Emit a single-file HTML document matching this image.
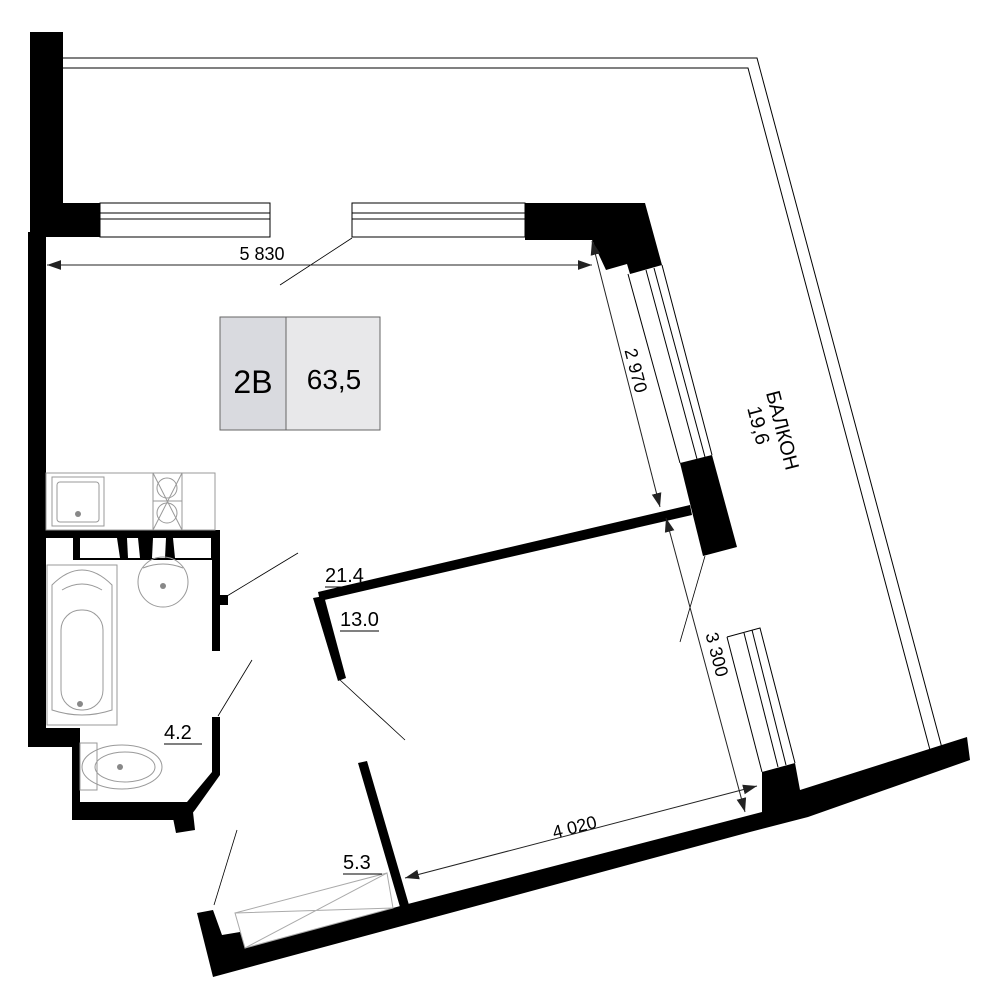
<!DOCTYPE html>
<html><head><meta charset="utf-8"><style>html,body{margin:0;padding:0;background:#fff}svg{display:block}text{font-family:"Liberation Sans","DejaVu Sans",sans-serif}</style></head>
<body>
<svg width="1000" height="1000" viewBox="0 0 1000 1000" xmlns="http://www.w3.org/2000/svg">
<defs>
<marker id="ar" viewBox="0 0 10 10" refX="10" refY="5" markerWidth="14" markerHeight="14" markerUnits="userSpaceOnUse" orient="auto-start-reverse"><path d="M0,1.5 L10,5 L0,8.5z" fill="#222"/></marker>
</defs>
<g fill="none" stroke="#000" stroke-width="1">
<polyline points="63,58 757,58 942,748"/>
<polyline points="63,68 748,68 930,750"/>
</g>
<g fill="#000">
<rect x="30" y="32" width="33" height="205"/>
<rect x="30" y="203" width="70" height="34"/>
<rect x="28" y="232" width="18" height="515"/>
<rect x="28" y="728" width="52" height="19"/>
<rect x="72" y="728" width="8" height="92"/>
<rect x="72" y="802" width="115" height="18"/>
<polygon points="187,802 212,772 212,717 220,717 220,775 195,810 187,820"/>
<polygon points="173,818 193,812 195,830 176,833"/>
<rect x="212" y="530" width="8" height="121"/>
<rect x="220" y="595" width="8" height="10"/>
<rect x="46" y="530" width="174" height="30"/>
<polygon points="525,203 645,203 662,265 630,274 627,264 606,270 592,240 525,240"/>
<polygon points="680,463 712,455 737,547 703,556"/>
<polygon points="318,592 690,505 692,515 320,601"/>
<polygon points="313,598 324,596 346,678 338,681"/>
<polygon points="358,763 367,761 409,905 400,907"/>
<polygon points="197,913 213,910 222,935 240,932 245,948 404,905 762,812 762,772 795,763 800,790 967,737 970,760 808,817 750,832 213,977"/>
</g>
<g fill="#fff">
<rect x="46" y="538" width="27" height="22"/>
<polygon points="80,538 117,538 120,558 80,558"/>
<polygon points="127,538 138,538 140,558 128,558"/>
<polygon points="153,538 166,538 165,558 152,558"/>
<polygon points="173,538 211,538 211,558 175,558"/>
</g>
<g stroke="#000" stroke-width="1" fill="none">
<rect x="100" y="203" width="170" height="34"/>
<line x1="100" y1="213" x2="270" y2="213"/><line x1="100" y1="219" x2="270" y2="219"/>
<rect x="352" y="203" width="173" height="34"/>
<line x1="352" y1="213" x2="525" y2="213"/><line x1="352" y1="219" x2="525" y2="219"/>
<line x1="628" y1="274" x2="680" y2="463"/>
<line x1="646" y1="270" x2="697" y2="459"/>
<line x1="654" y1="268" x2="705" y2="457"/>
<line x1="662" y1="265" x2="712" y2="455"/>
<polyline points="727,637 760,628 795,763"/>
<line x1="727" y1="637" x2="762" y2="772"/>
<line x1="744" y1="633" x2="778" y2="767"/>
<line x1="752" y1="630" x2="786" y2="765"/>
</g>
<g stroke="#999" stroke-width="1" fill="none">
<rect x="46" y="473" width="169" height="57"/>
<rect x="52" y="477" width="52" height="49"/>
<rect x="57" y="482" width="42" height="40" rx="3"/>
<rect x="153" y="473" width="29" height="57"/>
<line x1="153" y1="501" x2="182" y2="501"/>
<circle cx="167" cy="488" r="10"/><circle cx="167" cy="513" r="10"/>
<line x1="153" y1="473" x2="182" y2="530"/><line x1="182" y1="473" x2="153" y2="530"/>
<rect x="47" y="565" width="70" height="160"/>
<path d="M52,585 Q82,555 112,585 L112,710 Q82,720 52,710 Z"/>
<rect x="61" y="610" width="42" height="100" rx="20"/>
<path d="M62,590 Q82,578 102,590"/>
<circle cx="163" cy="582" r="25"/>
<path d="M143,568 Q163,560 183,568"/>
<rect x="80" y="743" width="17" height="47"/>
<ellipse cx="122" cy="767" rx="40" ry="22"/>
<ellipse cx="125" cy="767" rx="30" ry="15"/>
<polygon points="235,913 393,908 387,873 245,948" stroke="#aaa"/>
<line x1="245" y1="948" x2="393" y2="908" stroke="#aaa"/>
<line x1="235" y1="913" x2="387" y2="873" stroke="#aaa"/>
</g>
<g fill="#888"><circle cx="78" cy="514" r="3"/><circle cx="163" cy="586" r="3"/><circle cx="80" cy="704" r="3"/><circle cx="120" cy="767" r="3"/></g>
<g stroke="#000" stroke-width="0.8">
<line x1="280" y1="285" x2="352" y2="238"/>
<line x1="298" y1="553" x2="227" y2="596"/>
<line x1="252" y1="660" x2="218" y2="716"/>
<line x1="237" y1="830" x2="214" y2="905"/>
<line x1="340" y1="680" x2="405" y2="740"/>
<line x1="680" y1="642" x2="705" y2="556"/>
</g>
<g stroke="#222" stroke-width="1" fill="none">
<line x1="47" y1="265" x2="592" y2="265" marker-start="url(#ar)" marker-end="url(#ar)"/>
<line x1="592" y1="241" x2="660" y2="507" marker-start="url(#ar)" marker-end="url(#ar)"/>
<line x1="666" y1="518" x2="745" y2="812" marker-start="url(#ar)" marker-end="url(#ar)"/>
<line x1="405" y1="878" x2="757" y2="786" marker-start="url(#ar)" marker-end="url(#ar)"/>
</g>
<g font-size="18" fill="#000">
<text x="262" y="260" text-anchor="middle">5 830</text>
<text transform="translate(630,372) rotate(75.5)" text-anchor="middle">2 970</text>
<text transform="translate(711,656) rotate(75.5)" text-anchor="middle">3 300</text>
<text transform="translate(576,833) rotate(-14.5)" text-anchor="middle">4 020</text>
</g>
<g font-size="20" fill="#000">
<text transform="translate(776,432) rotate(75.5)" text-anchor="middle">БАЛКОН</text>
<text transform="translate(752,427) rotate(75.5)" text-anchor="middle">19,6</text>
</g>
<g font-size="20" fill="#000">
<text x="325" y="582">21.4</text><line x1="325" y1="587" x2="364" y2="587" stroke="#000"/>
<text x="340" y="626">13.0</text><line x1="340" y1="631" x2="379" y2="631" stroke="#000"/>
<text x="164" y="739">4.2</text><line x1="164" y1="744" x2="202" y2="744" stroke="#000"/>
<text x="343" y="869">5.3</text><line x1="343" y1="874" x2="382" y2="874" stroke="#000"/>
</g>
<rect x="220" y="317" width="66" height="113" fill="#d9dadf" stroke="#666" stroke-width="1"/>
<rect x="286" y="317" width="94" height="113" fill="#e8e8ea" stroke="#666" stroke-width="1"/>
<text x="253" y="393" font-size="32" text-anchor="middle">2В</text>
<text x="334" y="389" font-size="28" text-anchor="middle">63,5</text>
</svg>
</body></html>
